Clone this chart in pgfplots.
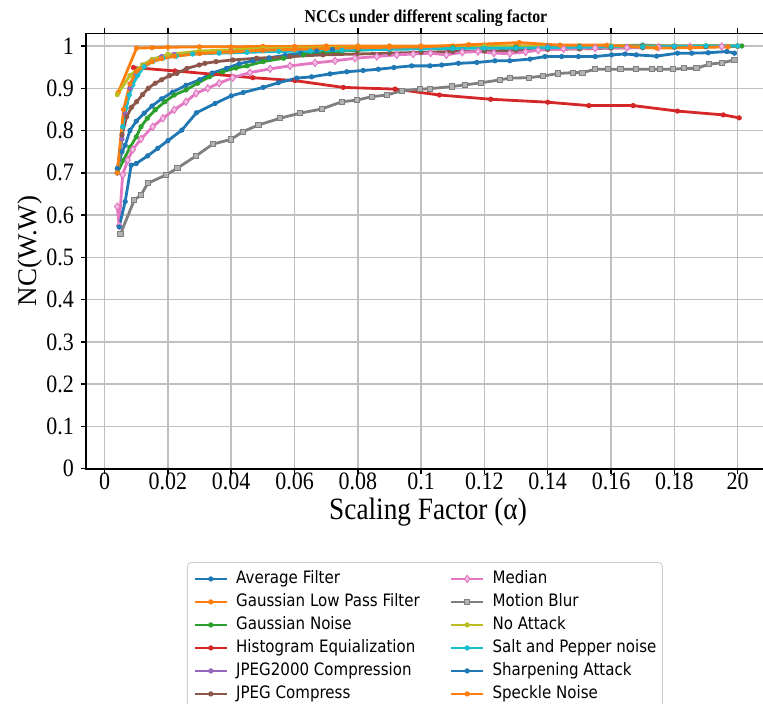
\documentclass[border=0pt]{standalone}
\usepackage{fontspec}
\setmainfont{Liberation Serif}[FakeStretch=0.88]
\newfontfamily\legfont{DejaVu Sans}[FakeStretch=0.88]
\newfontfamily\ylabfont{Liberation Serif}
\usepackage{pgfplots}
\pgfplotsset{compat=1.18}
\definecolor{tC0}{HTML}{1F77B4}
\definecolor{tC1}{HTML}{FF7F0E}
\definecolor{tC2}{HTML}{2CA02C}
\definecolor{tC3}{HTML}{D62728}
\definecolor{tC4}{HTML}{9467BD}
\definecolor{tC5}{HTML}{8C564B}
\definecolor{tC6}{HTML}{E377C2}
\definecolor{tC7}{HTML}{7F7F7F}
\definecolor{tC8}{HTML}{BCBD22}
\definecolor{tC9}{HTML}{17BECF}
\definecolor{gridgray}{HTML}{C0C0C0}
\pgfplotsset{
  ser/.style={line width=1.4pt, mark=*, mark size=1.1pt, mark options={solid, line width=0.4pt}},
  sAvg/.style={ser, color=tC0},
  sGlp/.style={ser, color=tC1},
  sGn/.style={ser, color=tC2},
  sHe/.style={ser, color=tC3},
  sJ2k/.style={ser, color=tC4},
  sJpg/.style={ser, color=tC5},
  sMed/.style={ser, color=tC6, mark=diamond*, mark size=1.8pt, mark options={solid, line width=0.5pt, fill=tC6!45!white}},
  sMb/.style={ser, color=tC7, mark=square*, mark size=1.3pt, mark options={solid, line width=0.5pt, fill=tC7!60!white}},
  sNo/.style={ser, color=tC8},
  sSp/.style={ser, color=tC9},
  sSh/.style={ser, color=tC0},
  sSk/.style={ser, color=tC1},
}
\begin{document}
\begin{tikzpicture}
\begin{axis}[
  at={(0,0)}, anchor=south west,
  scale only axis, width=340pt, height=217.7pt,
  xmin=-0.00588, xmax=0.20897, ymin=0, ymax=1.03,
  xtick={0,0.02,0.04,0.06,0.08,0.1,0.12,0.14,0.16,0.18,0.2},
  xticklabels={0,0.02,0.04,0.06,0.08,0.1,0.12,0.14,0.16,0.18,20},
  ytick={0,0.1,0.2,0.3,0.4,0.5,0.6,0.7,0.8,0.9,1},
  yticklabels={0,0.1,0.2,0.3,0.4,0.5,0.6,0.7,0.8,0.9,1},
  grid=major, major grid style={color=gridgray, line width=0.75pt},
  tick align=outside, major tick length=2.5pt,
  tick style={black, line width=0.75pt},
  axis line style={line width=0.8pt},
  ticklabel style={font=\fontsize{12.5}{14}\selectfont},
  xticklabel style={yshift=4pt},
  /pgf/number format/assume math mode=true,
  xlabel={Scaling Factor (α)},
  xlabel style={font=\fontsize{15.5}{18}\selectfont, at={(axis description cs:0.503,-0.099)}, anchor=center},
  ylabel={NC(W.W)},
  ylabel style={font=\ylabfont\fontsize{13.5}{16}\selectfont, at={(axis description cs:-0.0827,0.5)}, anchor=center},
  title={NCCs under different scaling factor},
  title style={font=\bfseries\fontsize{9}{11}\selectfont, at={(axis description cs:0.5,1.0075)}, anchor=center},
  legend columns=2,
  legend cell align=left,
  legend image code/.code={\draw[mark repeat=2,mark phase=2,#1] plot coordinates {(0pt,0pt) (8pt,0pt) (16pt,0pt)};},
  legend style={at={(axis description cs:0.1485,-0.2143)}, anchor=north west,
    draw=black!20, rounded corners=2pt, inner xsep=3pt, inner ysep=4pt,
    font=\legfont\fontsize{8.55}{10}\selectfont,
    column sep=4pt, /tikz/every even column/.append style={column sep=15pt},
    row sep=3pt, nodes={inner sep=0pt, text height=6.5pt, text depth=2pt}},
]
% Average Filter
\addplot[sAvg, forget plot] coordinates {(0.004,0.71)(0.0055,0.75)(0.0065,0.765)(0.008,0.80)(0.01,0.822)(0.0125,0.841)(0.015,0.858)(0.018,0.875)(0.0215,0.891)(0.0257,0.907)(0.03,0.92)(0.034,0.936)(0.0385,0.947)(0.0425,0.958)(0.047,0.965)(0.052,0.972)(0.057,0.978)(0.062,0.983)(0.067,0.988)(0.072,0.992)(0.08,0.995)(0.09,0.997)(0.1,0.998)(0.11,0.998)(0.12,0.999)(0.13,0.999)(0.14,1.0)(0.15,1.0)(0.16,1.0)(0.17,1.002)(0.18,1.0)(0.19,1.0)(0.2,1.0)};
% Gaussian Low Pass Filter
\addplot[sGlp, forget plot] coordinates {(0.0043,0.89)(0.0101,0.995)(0.015,0.996)(0.02,0.997)(0.03,0.998)(0.04,0.998)(0.05,0.999)(0.06,0.999)(0.07,1.0)(0.08,1.0)(0.09,1.0)(0.1,1.0)(0.11,1.0)(0.12,1.0)(0.13,1.0)(0.14,1.0)(0.15,1.0)(0.16,1.0)(0.17,1.0)(0.18,1.0)(0.19,1.0)(0.2,1.0)};
% Gaussian Noise
\addplot[sGn, forget plot] coordinates {(0.004,0.70)(0.006,0.73)(0.008,0.76)(0.01,0.785)(0.0115,0.809)(0.0135,0.829)(0.016,0.849)(0.019,0.868)(0.022,0.884)(0.0257,0.896)(0.0294,0.912)(0.0331,0.927)(0.0373,0.939)(0.0415,0.948)(0.045,0.953)(0.0501,0.963)(0.0565,0.971)(0.0628,0.979)(0.0691,0.983)(0.075,0.988)(0.08,0.99)(0.09,0.993)(0.1,0.995)(0.11,0.996)(0.12,0.996)(0.13,0.997)(0.14,0.997)(0.15,0.998)(0.16,0.998)(0.17,0.999)(0.18,0.999)(0.19,1.0)(0.2013,1.0)};
% Histogram Equalization
\addplot[sHe, forget plot] coordinates {(0.0091,0.949)(0.0222,0.941)(0.0468,0.925)(0.0602,0.918)(0.0754,0.902)(0.0918,0.898)(0.1058,0.884)(0.122,0.874)(0.140,0.867)(0.153,0.859)(0.167,0.859)(0.181,0.846)(0.1955,0.837)(0.2005,0.830)};
% JPEG2000 Compression
\addplot[sJ2k, forget plot] coordinates {(0.004,0.70)(0.0055,0.78)(0.0065,0.84)(0.008,0.90)(0.01,0.935)(0.012,0.955)(0.015,0.968)(0.018,0.975)(0.022,0.98)(0.03,0.984)(0.04,0.987)(0.05,0.99)(0.06,0.992)(0.08,0.994)(0.1,0.996)(0.12,0.997)(0.14,0.998)(0.16,0.998)(0.18,0.999)(0.2,1.0)};
% JPEG Compress
\addplot[sJpg, forget plot] coordinates {(0.004,0.70)(0.0055,0.79)(0.007,0.833)(0.0085,0.855)(0.0101,0.868)(0.012,0.885)(0.0138,0.90)(0.016,0.912)(0.018,0.92)(0.0205,0.93)(0.0228,0.935)(0.026,0.947)(0.0299,0.955)(0.0317,0.959)(0.0352,0.963)(0.0405,0.967)(0.048,0.971)(0.0586,0.975)(0.069,0.979)(0.0797,0.981)(0.09,0.983)(0.1,0.985)(0.11,0.987)(0.12,0.988)(0.13,0.99)(0.14,0.992)(0.15,0.993)(0.16,0.995)(0.17,0.996)(0.18,0.997)(0.19,0.998)(0.2,0.999)};
% Median
\addplot[sMed, forget plot] coordinates {(0.004,0.62)(0.0046,0.575)(0.0057,0.695)(0.0073,0.73)(0.0089,0.755)(0.0115,0.78)(0.0152,0.809)(0.0184,0.829)(0.022,0.849)(0.0257,0.868)(0.0289,0.888)(0.0326,0.900)(0.0362,0.912)(0.0405,0.925)(0.0459,0.937)(0.0523,0.946)(0.0586,0.953)(0.0665,0.960)(0.0728,0.965)(0.0791,0.971)(0.086,0.975)(0.0923,0.979)(0.0975,0.981)(0.103,0.983)(0.108,0.979)(0.113,0.985)(0.118,0.987)(0.123,0.983)(0.128,0.982)(0.133,0.986)(0.137,0.99)(0.145,0.993)(0.155,0.995)(0.165,0.996)(0.175,0.997)(0.185,0.998)(0.195,0.999)};
% Motion Blur
\addplot[sMb, forget plot] coordinates {(0.005,0.555)(0.0094,0.636)(0.0115,0.647)(0.0136,0.675)(0.0194,0.695)(0.023,0.711)(0.0289,0.740)(0.0342,0.768)(0.040,0.779)(0.0436,0.797)(0.0486,0.813)(0.0554,0.829)(0.0617,0.841)(0.0686,0.851)(0.0749,0.868)(0.0797,0.872)(0.0844,0.880)(0.0891,0.884)(0.0939,0.894)(0.0997,0.898)(0.1028,0.899)(0.1097,0.904)(0.1139,0.908)(0.119,0.913)(0.125,0.920)(0.128,0.924)(0.134,0.925)(0.1386,0.929)(0.1433,0.935)(0.148,0.937)(0.151,0.937)(0.155,0.945)(0.159,0.945)(0.163,0.945)(0.168,0.945)(0.173,0.945)(0.1755,0.945)(0.1797,0.945)(0.183,0.947)(0.187,0.947)(0.191,0.957)(0.195,0.960)(0.199,0.967)};
% No Attack
\addplot[sNo, forget plot] coordinates {(0.004,0.885)(0.008,0.93)(0.012,0.955)(0.015,0.968)(0.02,0.98)(0.03,0.988)(0.05,0.994)(0.08,0.997)(0.12,0.999)(0.16,1.0)(0.2,1.0)};
% Salt and Pepper noise
\addplot[sSp, forget plot] coordinates {(0.004,0.70)(0.0057,0.809)(0.0068,0.853)(0.0078,0.884)(0.0089,0.908)(0.0105,0.931)(0.0125,0.951)(0.0152,0.963)(0.0184,0.971)(0.0226,0.976)(0.0278,0.981)(0.0362,0.983)(0.045,0.985)(0.055,0.987)(0.065,0.988)(0.075,0.99)(0.09,0.992)(0.1,0.993)(0.11,0.994)(0.12,0.995)(0.13,0.995)(0.14,0.996)(0.15,0.997)(0.16,0.998)(0.17,0.998)(0.18,0.999)(0.19,1.0)(0.2,1.0)};
% Sharpening Attack
\addplot[sSh, forget plot] coordinates {(0.0046,0.572)(0.0065,0.632)(0.0084,0.718)(0.01,0.722)(0.0136,0.740)(0.0168,0.758)(0.02,0.776)(0.0244,0.801)(0.029,0.842)(0.0349,0.864)(0.040,0.882)(0.0438,0.890)(0.0501,0.902)(0.0549,0.913)(0.0607,0.924)(0.0654,0.927)(0.0712,0.934)(0.0765,0.939)(0.0817,0.942)(0.0865,0.945)(0.0914,0.949)(0.097,0.953)(0.1028,0.953)(0.1065,0.955)(0.1118,0.959)(0.1176,0.961)(0.1233,0.965)(0.128,0.965)(0.1344,0.969)(0.1391,0.975)(0.1444,0.975)(0.1497,0.975)(0.155,0.975)(0.1602,0.979)(0.1644,0.981)(0.168,0.979)(0.1744,0.976)(0.181,0.983)(0.1855,0.983)(0.1907,0.984)(0.1966,0.987)(0.199,0.983)};
% Speckle Noise
\addplot[sSk, forget plot] coordinates {(0.004,0.70)(0.006,0.85)(0.008,0.91)(0.01,0.94)(0.015,0.963)(0.018,0.97)(0.022,0.976)(0.03,0.982)(0.04,0.986)(0.05,0.99)(0.06,0.992)(0.07,0.994)(0.08,0.996)(0.09,0.997)(0.1,0.998)(0.115,1.003)(0.131,1.008)(0.1439,1.002)(0.1586,1.002)(0.1744,0.995)(0.185,0.996)(0.197,0.998)};
% legend (row-wise, two columns)
\addlegendimage{sAvg}\addlegendentry{Average Filter}
\addlegendimage{sMed}\addlegendentry{Median}
\addlegendimage{sGlp}\addlegendentry{Gaussian Low Pass Filter}
\addlegendimage{sMb}\addlegendentry{Motion Blur}
\addlegendimage{sGn}\addlegendentry{Gaussian Noise}
\addlegendimage{sNo}\addlegendentry{No Attack}
\addlegendimage{sHe}\addlegendentry{Histogram Equialization}
\addlegendimage{sSp}\addlegendentry{Salt and Pepper noise}
\addlegendimage{sJ2k}\addlegendentry{JPEG2000 Compression}
\addlegendimage{sSh}\addlegendentry{Sharpening Attack}
\addlegendimage{sJpg}\addlegendentry{JPEG Compress}
\addlegendimage{sSk}\addlegendentry{Speckle Noise}
\end{axis}
\pgfresetboundingbox
\useasboundingbox (-43pt,-117.15pt) rectangle (338.5pt,234.35pt);
\end{tikzpicture}
\end{document}
